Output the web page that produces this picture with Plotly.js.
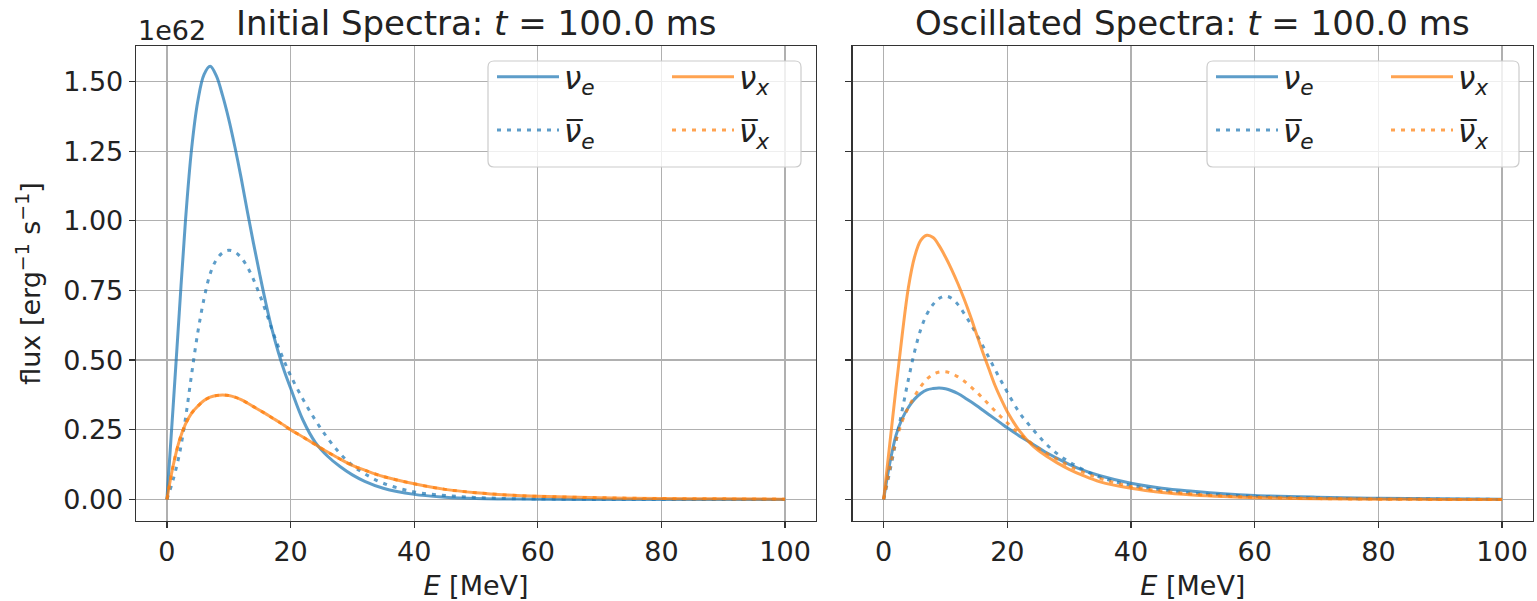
<!DOCTYPE html>
<html>
<head>
<meta charset="utf-8">
<script src="https://cdn.plot.ly/plotly-3.0.1.min.js"></script>
<style>html,body{margin:0;padding:0;background:#fff;}#chart{width:1537px;height:601px;}</style>
</head>
<body>
<div id="chart"></div>
<script>
// Energy grid (MeV)
const energy = [0,1,2,3,4,5,6,7,8,9,10,11,12,13,14,15,16,17,18,19,20,22,24,26,28,30,32,35,40,45,50,55,60,70,80,90,100];

// Initial spectra (units of 1e62 erg^-1 s^-1)
const initNuE    = [0,0.33,0.67,1.0,1.26,1.43,1.525,1.555,1.52,1.45,1.365,1.265,1.155,1.035,0.92,0.81,0.705,0.61,0.53,0.46,0.40,0.285,0.205,0.155,0.118,0.088,0.065,0.04,0.018,0.008,0.003,0.0015,0.0005,0,0,0,0];
const initNuEbar = [0,0.07,0.16,0.29,0.45,0.60,0.72,0.81,0.86,0.885,0.894,0.888,0.868,0.835,0.79,0.735,0.675,0.61,0.55,0.495,0.445,0.36,0.285,0.22,0.165,0.122,0.092,0.058,0.027,0.014,0.007,0.003,0.0015,0,0,0,0];
const initNuX    = [0,0.12,0.21,0.27,0.31,0.335,0.355,0.367,0.373,0.375,0.373,0.367,0.358,0.346,0.333,0.32,0.307,0.293,0.28,0.265,0.25,0.224,0.197,0.17,0.145,0.122,0.105,0.082,0.056,0.036,0.024,0.016,0.011,0.006,0.003,0.002,0.001];
const initNuXbar = [0,0.12,0.21,0.27,0.31,0.335,0.355,0.367,0.373,0.375,0.373,0.367,0.358,0.346,0.333,0.32,0.307,0.293,0.28,0.265,0.25,0.224,0.197,0.17,0.145,0.122,0.105,0.082,0.056,0.036,0.024,0.016,0.011,0.006,0.003,0.002,0.001];

// Oscillated spectra
const oscNuE    = [0,0.13,0.23,0.29,0.33,0.36,0.38,0.393,0.398,0.40,0.397,0.39,0.38,0.367,0.352,0.337,0.321,0.305,0.289,0.273,0.257,0.227,0.20,0.172,0.148,0.126,0.107,0.085,0.058,0.04,0.029,0.02,0.014,0.008,0.004,0.002,0.001];
const oscNuEbar = [0,0.10,0.21,0.32,0.43,0.53,0.61,0.665,0.70,0.722,0.73,0.722,0.70,0.668,0.632,0.594,0.553,0.51,0.467,0.425,0.385,0.31,0.255,0.205,0.165,0.135,0.11,0.08,0.05,0.034,0.022,0.016,0.011,0.005,0.002,0.001,0];
const oscNuX    = [0,0.2,0.4,0.59,0.76,0.87,0.93,0.948,0.94,0.91,0.87,0.825,0.775,0.72,0.66,0.595,0.53,0.47,0.41,0.36,0.315,0.245,0.195,0.16,0.132,0.108,0.088,0.063,0.04,0.025,0.016,0.01,0.006,0.002,0.001,0,0];
const oscNuXbar = [0,0.11,0.21,0.28,0.33,0.37,0.405,0.432,0.449,0.457,0.458,0.452,0.44,0.425,0.406,0.386,0.364,0.341,0.318,0.296,0.275,0.235,0.20,0.17,0.145,0.12,0.10,0.075,0.046,0.03,0.019,0.012,0.008,0.003,0.001,0,0];

const names = ['<i>ν<sub>e</sub></i>', '<i>ν\u0305<sub>e</sub></i>', '<i>ν<sub>x</sub></i>', '<i>ν\u0305<sub>x</sub></i>'];
const titles = ['Initial Spectra: <i>t</i> = 100.0 ms', 'Oscillated Spectra: <i>t</i> = 100.0 ms'];
const xTicks = [0,20,40,60,80,100];
const yTicks = [0,0.25,0.5,0.75,1.0,1.25,1.5];

const BLUE = 'rgba(31,119,180,0.72)';
const ORANGE = 'rgba(255,127,14,0.72)';
const DOT = '4px,6px';

function tr(y, name, color, dash, xa, ya, leg, grp) {
  return {x: energy, y: y, name: name, type: 'scatter', mode: 'lines',
    line: {color: color, width: 3, dash: dash, shape: 'spline', smoothing: 1},
    xaxis: xa, yaxis: ya, legend: leg, legendgroup: grp, hoverinfo: 'skip'};
}

const data = [
  tr(initNuE, names[0], BLUE, 'solid', 'x', 'y', 'legend', 'a'),
  tr(initNuEbar, names[1], BLUE, DOT, 'x', 'y', 'legend', 'b'),
  tr(initNuX, names[2], ORANGE, 'solid', 'x', 'y', 'legend2', 'c'),
  tr(initNuXbar, names[3], ORANGE, DOT, 'x', 'y', 'legend2', 'd'),
  tr(oscNuE, names[0], BLUE, 'solid', 'x2', 'y2', 'legend3', 'e'),
  tr(oscNuEbar, names[1], BLUE, DOT, 'x2', 'y2', 'legend3', 'f'),
  tr(oscNuX, names[2], ORANGE, 'solid', 'x2', 'y2', 'legend4', 'g'),
  tr(oscNuXbar, names[3], ORANGE, DOT, 'x2', 'y2', 'legend4', 'h')
];

const FONT = 'DejaVu Sans, Verdana, sans-serif';
const W = 1537, H = 601;
const ML = 136, MR = 4, MT = 46, MB = 80;
const PW = W - ML - MR;
const d1 = [0, (816 - ML) / PW];
const d2 = [(852.7 - ML) / PW, 1];

function xax(dom) {
  return {domain: dom, range: [-5, 105], tickvals: xTicks, ticks: 'outside', ticklen: 6, tickwidth: 1.3,
    tickcolor: '#333', showline: true, mirror: true, linecolor: '#333', linewidth: 1.3,
    showgrid: true, gridcolor: '#b0b0b0', gridwidth: 1.3, zeroline: false,
    tickfont: {family: FONT, size: 27, color: '#222'},
    title: {text: '<i>E</i> [MeV]', font: {family: FONT, size: 27, color: '#222'}, standoff: 12}};
}
function yax(showLabels, anchor) {
  return {domain: [0, 1], range: [-0.0775, 1.6275], tickvals: yTicks, tickformat: '.2f', anchor: anchor,
    ticks: 'outside', ticklen: 6, tickwidth: 1.3, tickcolor: '#333', showticklabels: showLabels,
    showline: true, mirror: true, linecolor: '#333', linewidth: 1.3,
    showgrid: true, gridcolor: '#b0b0b0', gridwidth: 1.3, zeroline: false,
    tickfont: {family: FONT, size: 27, color: '#222'}};
}

function px2x(p) { return (p - ML) / PW; }
function px2y(p) { return (H - MB - p) / (H - MT - MB); }

function legendAt(xpx) {
  return {x: px2x(xpx), y: px2y(50), xanchor: 'left', yanchor: 'top', orientation: 'v',
    bgcolor: 'rgba(0,0,0,0)', borderwidth: 0, itemwidth: 62, tracegroupgap: 10,
    font: {family: FONT, size: 31, color: '#222'}};
}

function frame(x0, x1, y0, y1) {
  const rx = 6 / PW, ry = 6 / (H - MT - MB);
  const X0 = px2x(x0), X1 = px2x(x1), Y0 = px2y(y1), Y1 = px2y(y0);
  const p = `M${X0 + rx},${Y1} L${X1 - rx},${Y1} Q${X1},${Y1} ${X1},${Y1 - ry} L${X1},${Y0 + ry} Q${X1},${Y0} ${X1 - rx},${Y0} L${X0 + rx},${Y0} Q${X0},${Y0} ${X0},${Y0 + ry} L${X0},${Y1 - ry} Q${X0},${Y1} ${X0 + rx},${Y1} Z`;
  return {type: 'path', xref: 'paper', yref: 'paper', path: p, layer: 'above',
    fillcolor: 'rgba(255,255,255,0.8)', line: {color: '#cccccc', width: 1.2}};
}

const layout = {
  width: W, height: H, paper_bgcolor: '#fff', plot_bgcolor: '#fff',
  margin: {l: ML, r: MR, t: MT, b: MB, autoexpand: false},
  font: {family: FONT, color: '#222'},
  showlegend: true,
  xaxis: xax(d1), yaxis: Object.assign(yax(true, 'x'), {
    title: {text: 'flux [erg<sup>−1</sup> s<sup>−1</sup>]', font: {family: FONT, size: 27, color: '#222'}, standoff: 14}}),
  xaxis2: Object.assign(xax(d2), {anchor: 'y2'}), yaxis2: Object.assign(yax(false, 'x2'), {matches: 'y'}),
  legend: legendAt(492), legend2: legendAt(667), legend3: legendAt(1211), legend4: legendAt(1386),
  shapes: [frame(488, 801, 61, 167), frame(1207, 1519, 61, 167)],
  annotations: [
    {text: titles[0], xref: 'paper', yref: 'paper', x: d1[0] + (d1[1] - d1[0]) / 2, y: px2y(23), xanchor: 'center', yanchor: 'middle', showarrow: false, font: {family: FONT, size: 34, color: '#222'}},
    {text: titles[1], xref: 'paper', yref: 'paper', x: d2[0] + (d2[1] - d2[0]) / 2, y: px2y(23), xanchor: 'center', yanchor: 'middle', showarrow: false, font: {family: FONT, size: 34, color: '#222'}},
    {text: '1e62', xref: 'paper', yref: 'paper', x: 0, y: px2y(30), xanchor: 'left', yanchor: 'middle', showarrow: false, font: {family: FONT, size: 27, color: '#222'}}
  ]
};

Plotly.newPlot('chart', data, layout, {displayModeBar: false, staticPlot: true});
</script>
</body>
</html>
